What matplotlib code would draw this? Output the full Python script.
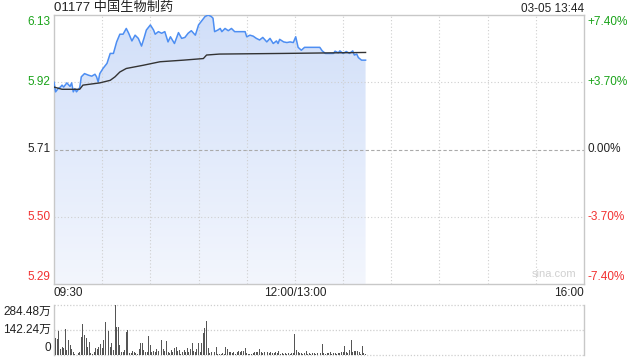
import numpy as np
import matplotlib
matplotlib.use("Agg")
from matplotlib import pyplot as plt
from matplotlib.colors import LinearSegmentedColormap

plt.rcParams['font.family'] = ['Liberation Sans', 'Noto Sans CJK SC']

# price line, minutes since 09:30 (lunch break removed)
price_t = [0, 1, 2.5, 4, 5, 6, 8, 10, 11, 12, 13, 14, 16, 17, 19, 21.5, 23.5, 25.5, 26.5, 27.5,
           28.5, 30.5, 33, 35, 37, 39, 41, 43, 45, 46.5, 48.5, 50.5, 52.5, 54.5, 56, 57.5, 60, 62,
           63, 65, 67, 69, 71, 72.5, 75, 77.5, 79.5, 81.5, 83.5, 85.5, 88, 90, 92, 94, 96, 98, 99,
           100, 102, 103.5, 104.5, 106.5, 108.5, 110.5, 112.5, 119, 120, 122, 124, 126, 128, 130,
           132.5, 134.5, 136.5, 138.5, 139.5, 140.5, 143, 145, 147, 149, 150.5, 152, 154, 156,
           165.5, 167, 169, 174, 175, 177, 178, 180, 182, 184, 186, 187, 188.5, 189.5, 191.5, 194]
price = [5.92, 5.89, 5.90, 5.905, 5.911, 5.905, 5.918, 5.907, 5.918, 5.89, 5.90, 5.89, 5.903,
         5.937, 5.947, 5.942, 5.939, 5.945, 5.937, 5.921, 5.947, 5.963, 5.979, 6.01, 6.01, 6.046,
         6.07, 6.07, 6.088, 6.073, 6.049, 6.067, 6.057, 6.033, 6.057, 6.083, 6.099, 6.083, 6.07,
         6.078, 6.073, 6.078, 6.046, 6.062, 6.041, 6.075, 6.057, 6.06, 6.073, 6.081, 6.067, 6.099,
         6.112, 6.125, 6.13, 6.125, 6.12, 6.078, 6.083, 6.088, 6.078, 6.088, 6.081, 6.088, 6.078,
         6.078, 6.062, 6.067, 6.064, 6.057, 6.052, 6.06, 6.046, 6.057, 6.041, 6.049, 6.041, 6.054,
         6.046, 6.044, 6.046, 6.044, 6.062, 6.029, 6.02, 6.029, 6.029, 6.018, 6.01, 6.01, 6.017,
         6.012, 6.018, 6.01, 6.016, 6.01, 6.018, 6.005, 6.008, 5.997, 5.989, 5.989]

# average price line
avg_t = [0, 5, 16, 18, 28.5, 35, 38, 41, 45, 55.5, 66, 80.5, 93, 95, 103, 143, 194]
avg = [5.905, 5.898, 5.898, 5.911, 5.918, 5.926, 5.937, 5.952, 5.963, 5.973, 5.984, 5.989,
       5.994, 6.005, 6.008, 6.01, 6.013]

# volume per minute (万)
volume = [114, 95, 91, 137, 34, 47, 38, 148, 28, 85,
          57, 34, 19, 4, 2, 9, 15, 104, 174, 114,
          95, 47, 72, 9, 4, 19, 38, 34, 47, 61,
          38, 85, 190, 38, 137, 47, 66, 28, 284, 161,
          161, 57, 15, 19, 28, 133, 142, 13, 9, 23,
          15, 9, 4, 34, 66, 66, 28, 15, 19, 110,
          57, 19, 23, 15, 34, 23, 9, 85, 34, 23,
          80, 19, 9, 28, 19, 38, 47, 23, 28, 4,
          15, 28, 19, 38, 15, 34, 66, 23, 19, 34,
          66, 19, 66, 123, 152, 193,
          38, 9, 15, 61, 19, 47, 4, 8, 6, 9,
          8, 47, 34, 19, 15, 11, 15, 8, 19, 23,
          19, 23, 23, 42, 9, 6, 4, 8, 9, 15,
          15, 19, 34, 15, 9, 19, 11, 15, 9, 15,
          9, 11, 15, 9, 23, 8, 9, 8, 9, 8,
          9, 8, 9, 11, 118, 28, 15, 11, 9, 8,
          9, 23, 8, 9, 8, 9, 11, 8, 9, 8,
          9, 61, 9, 8, 11, 9, 19, 8, 9, 9,
          8, 9, 11, 15, 19, 53, 15, 11, 28, 85,
          15, 23, 23, 23, 15, 8, 51, 9, 8]

prev_close = 5.71
price_ticks = [6.13, 5.92, 5.71, 5.50, 5.29]
pct_labels = ['+7.40%', '+3.70%', '0.00%', '-3.70%', '-7.40%']
vol_ticks = [284.48, 142.24, 0]
vol_labels = ['284.48万', '142.24万', '0']
time_labels = ['09:30', '12:00/13:00', '16:00']

W, H = 640, 360
green = '#1aa31a'
red = '#f23030'
grid_c = '#cfcfcf'
spine_c = '#c8c8c8'
fs = 8.5


def fx(x):
    return x / W


def fy(y):
    return 1 - y / H


fig = plt.figure(figsize=(6.4, 3.6), dpi=100)
ax = fig.add_axes([fx(54), fy(284), fx(584) - fx(54), fy(15) - fy(284)])
axv = fig.add_axes([fx(54), fy(355), fx(584) - fx(54), fy(305) - fy(355)])

lo, hi = price_ticks[-1], price_ticks[0]

# gradient area under the price line
poly = ax.fill_between(price_t, price, lo, color='none', lw=0)
cmap = LinearSegmentedColormap.from_list('g', ['#f3f6fd', '#d1dff9'])
grad = np.linspace(0, 1, 256).reshape(-1, 1)
im = ax.imshow(grad, cmap=cmap, origin='lower', aspect='auto',
               extent=[0, max(price_t), lo, hi], zorder=1)
im.set_clip_path(poly.get_paths()[0], transform=ax.transData)
ax.set_xlim(0, 330)
ax.set_ylim(lo, hi)

for t in range(30, 330, 30):
    ax.axvline(t, color=grid_c, lw=0.8, ls=(0, (1, 2)), zorder=2)
for p in price_ticks[1:-1]:
    if p == prev_close:
        ax.axhline(p, color='#aaaaaa', lw=0.8, ls=(0, (3, 2)), zorder=2)
    else:
        ax.axhline(p, color=grid_c, lw=0.8, ls=(0, (1, 2)), zorder=2)

ax.plot(price_t, price, color='#4d8ef2', lw=1.1, zorder=4)
ax.plot(avg_t, avg, color='#333333', lw=1.0, zorder=5)

ax.set_xticks([])
ax.set_yticks([])
for s in ax.spines.values():
    s.set_color(spine_c)
    s.set_linewidth(1)

ax.text(0.985, 0.02, 'sina.com', transform=ax.transAxes, ha='right', va='bottom',
        color='#d0d0d0', fontsize=8)

# price labels
for i, p in enumerate(price_ticks):
    if p > prev_close:
        c = green
    elif p < prev_close:
        c = red
    else:
        c = '#222222'
    if i == 0:
        va, y = 'top', p - 0.004
    elif i == len(price_ticks) - 1:
        va, y = 'bottom', p + 0.004
    else:
        va, y = 'center', p
    ax.text(-0.006, y, '%.2f' % p, transform=ax.get_yaxis_transform(), ha='right', va=va,
            color=c, fontsize=fs)
    ax.text(1.006, y, pct_labels[i], transform=ax.get_yaxis_transform(), ha='left', va=va,
            color=c, fontsize=fs)

# time labels
fig.text(fx(54), fy(293), time_labels[0], ha='left', va='center', fontsize=fs, color='#222222')
fig.text(fx(54 + 150 * 530 / 330), fy(293), time_labels[1], ha='center', va='center',
         fontsize=fs, color='#222222')
fig.text(fx(584), fy(293), time_labels[2], ha='right', va='center', fontsize=fs, color='#222222')

# header
fig.text(fx(54), fy(11), '01177 中国生物制药', ha='left', va='baseline', fontsize=9.5,
         color='#222222')
fig.text(fx(584), fy(12), '03-05 13:44', ha='right', va='baseline', fontsize=fs, color='#222222')

# volume panel
axv.set_xlim(0, 330)
axv.set_ylim(0, vol_ticks[0])
axv.bar(np.arange(len(volume)), volume, width=0.6, color='#555555', lw=0, zorder=3)
for v in vol_ticks:
    axv.axhline(v, color=grid_c, lw=0.9, ls=(0, (1, 1.5)), zorder=1, clip_on=False)
axv.set_xticks([])
axv.set_yticks([])
for k in ['top', 'bottom']:
    axv.spines[k].set_visible(False)
for k in ['left', 'right']:
    axv.spines[k].set_color(spine_c)
    axv.spines[k].set_linewidth(1)
for i, v in enumerate(vol_ticks):
    if i == 0:
        va, y = 'top', v - 5
    elif i == len(vol_ticks) - 1:
        va, y = 'bottom', v + 3
    else:
        va, y = 'center', v
    axv.text(-0.006, y, vol_labels[i], transform=axv.get_yaxis_transform(), ha='right', va=va,
             color='#222222', fontsize=fs)

fig.savefig('out.png', dpi=100)
